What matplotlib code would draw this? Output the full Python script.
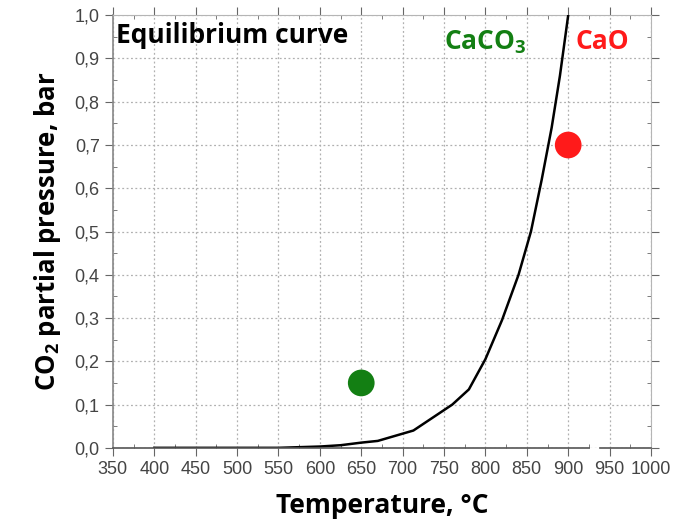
import numpy as np
import matplotlib.pyplot as plt
from matplotlib.ticker import MultipleLocator, FuncFormatter

plt.rcParams['font.family'] = ['Liberation Sans', 'DejaVu Sans']
plt.rcParams['mathtext.fontset'] = 'custom'
plt.rcParams['mathtext.rm'] = 'Open Sans:bold'
plt.rcParams['mathtext.it'] = 'Open Sans:bold'
plt.rcParams['mathtext.bf'] = 'Open Sans:bold'

# equilibrium curve
temp = [400, 550, 600, 625, 650, 670, 713, 760, 780, 800, 820, 840, 855, 868, 880, 890, 900]
p_co2 = [0.0, 0.0, 0.003, 0.006, 0.012, 0.016, 0.04, 0.10, 0.135, 0.205, 0.295, 0.40, 0.50, 0.62, 0.74, 0.86, 1.0]

# operating points
pts_t = [650, 900]
pts_p = [0.15, 0.70]
pts_c = ['#137f13', '#ff1a1a']

xticks = np.arange(350, 1001, 50)
yticks = np.arange(0, 1.01, 0.1)

fig = plt.figure(figsize=(6.76, 5.25), dpi=100)
ax = fig.add_axes([0.167, 0.147, 0.796, 0.824])

ax.plot(temp, p_co2, color='black', lw=1.8, zorder=3)
ax.scatter(pts_t, pts_p, s=370, c=pts_c, zorder=4, edgecolors='none')

ax.set_xlim(350, 1000)
ax.set_ylim(0, 1.0)
ax.set_xticks(xticks)
ax.set_yticks(yticks)
ax.xaxis.set_minor_locator(MultipleLocator(25))
ax.yaxis.set_minor_locator(MultipleLocator(0.05))
ax.yaxis.set_major_formatter(FuncFormatter(lambda v, _: f'{v:.1f}'.replace('.', ',')))

ax.grid(True, which='major', ls=(0, (1.5, 2)), color='#b0b0b0', lw=0.9)

ax.tick_params(which='major', direction='out', length=6, color='#666666',
               labelsize=13, labelcolor='#444444', top=True, right=True)
ax.tick_params(which='minor', direction='in', length=3, color='#666666', top=True, right=True)

for s in ['top', 'right']:
    ax.spines[s].set_color('#b5b5b5')
ax.spines['left'].set_color('#888888')
ax.spines['left'].set_linewidth(1.2)

# bottom axis with a small break
ax.spines['bottom'].set_visible(False)
tr = ax.get_xaxis_transform()
ax.plot([350, 925], [0, 0], color='#555555', lw=1.2, transform=tr, clip_on=False, zorder=5)
ax.plot([938, 1000], [0, 0], color='#555555', lw=1.2, transform=tr, clip_on=False, zorder=5)

bold = dict(fontweight='bold', family='Open Sans')
ax.text(0.006, 0.985, 'Equilibrium curve', transform=ax.transAxes, ha='left', va='top',
        fontsize=19, color='black', **bold)
ax.text(0.615, 0.97, 'CaCO$_3$', transform=ax.transAxes, ha='left', va='top',
        fontsize=19, color='#137f13', **bold)
ax.text(0.86, 0.97, 'CaO', transform=ax.transAxes, ha='left', va='top',
        fontsize=19, color='#ff1a1a', **bold)

ax.set_xlabel('Temperature, °C', fontsize=19, labelpad=10, **bold)
ax.set_ylabel('CO$_2$ partial pressure, bar', fontsize=18.5, labelpad=8, **bold)

fig.savefig('out.png', dpi=100)
